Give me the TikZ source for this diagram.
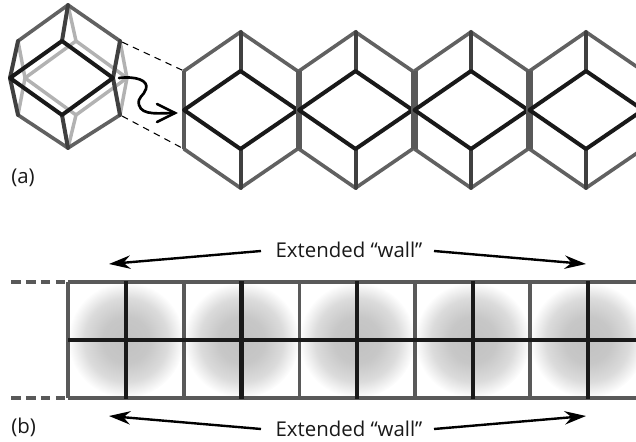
\documentclass[tikz,border=0pt]{standalone}
\usepackage{fontspec}
\setmainfont{Open Sans}
\usetikzlibrary{arrows.meta}
\pgfdeclareradialshading{wallglow}{\pgfpointorigin}{%
  color(0bp)=(black!24); color(10bp)=(black!22); color(18bp)=(black!14); color(23bp)=(black!4); color(25bp)=(white); color(50bp)=(white)}
\tikzset{
  x=0.75pt,y=-0.75pt,
  outeredge/.style={draw=black!62,line width=2.7pt,line cap=round,line join=round},
  spine/.style={draw=black!75,line width=3pt,line cap=round},
  backedge/.style={draw=black!30,line width=2.6pt,line cap=round,line join=round},
  frontedge/.style={draw=black!90,line width=3pt,line cap=round,line join=round},
  sharededge/.style={draw=black!65,line width=4.6pt},
  firstedge/.style={draw=black!65,line width=2.7pt},
  gridthin/.style={draw=black!65,line width=2.4pt},
  gridthick/.style={draw=black!90,line width=3.2pt},
  guide/.style={draw=black,line width=0.8pt,dash pattern=on 5pt off 4pt},
  railstub/.style={draw=black!65,line width=2.3pt,dash pattern=on 7.2pt off 4pt},
  bigarrow/.style={draw=black,line width=1.8pt,-{Stealth[length=16pt,width=10pt]}},
  curlyarrow/.style={draw=black,line width=2pt,line cap=round},
  lbl/.style={inner sep=0pt,text=black!90,font=\fontsize{15.3pt}{18pt}\selectfont},
}
\begin{document}
\begin{tikzpicture}
\useasboundingbox (0,0) rectangle (636,442);
\clip (0,0) rectangle (636,442);
% ---- small polyhedron
\coordinate (ot) at (68,5);
\coordinate (oul) at (18,41);
\coordinate (oll) at (18,115);
\coordinate (ob) at (68,148);
\coordinate (olr) at (120,115);
\coordinate (our) at (120,41);
\coordinate (fl) at (10,78);
\coordinate (ft) at (62,41);
\coordinate (fr) at (113,78);
\coordinate (fb) at (62,115);
\coordinate (bl) at (25,78);
\coordinate (bt) at (76,41);
\coordinate (br) at (127,78);
\coordinate (bb) at (76,115);
\draw[backedge] (bl) -- (bt) -- (br) -- (bb) -- cycle;
\draw[backedge] (ot) -- (bt) (ob) -- (bb) (oul) -- (bl) (oll) -- (bl) (our) -- (br) (olr) -- (br);
\draw[outeredge] (ot) -- (our) (olr) -- (ob) -- (oll) (oul) -- (ot);
\draw[spine] (ot) -- (ft) (ob) -- (fb) (oul) -- (fl) (oll) -- (fl) (our) -- (fr) (olr) -- (fr);
\draw[frontedge] (fl) -- (ft) -- (fr) -- (fb) -- cycle;
% ---- wall of hexagons
\foreach \i/\xc in {0/240.5,1/355.5,2/471,3/586}{
  \coordinate (hl\i) at (\xc-56.5,110);
  \coordinate (hr\i) at (\xc+57,110);
  \coordinate (hul\i) at (\xc-56.5,71);
  \coordinate (hll\i) at (\xc-56.5,149);
  \coordinate (hur\i) at (\xc+57,71);
  \coordinate (hlr\i) at (\xc+57,149);
  \coordinate (ht\i) at (\xc,32);
  \coordinate (hb\i) at (\xc,188);
  \coordinate (it\i) at (\xc,71);
  \coordinate (ib\i) at (\xc,149);
  \draw[outeredge] (hul\i) -- (ht\i) -- (hur\i) (hll\i) -- (hb\i) -- (hlr\i);
  \ifnum\i=0 \draw[firstedge] (hul\i) -- (hll\i); \else \draw[sharededge] (hul\i) -- (hll\i); \fi
  \draw[spine] (ht\i) -- (it\i) (hb\i) -- (ib\i);
  \draw[frontedge] (hl\i) -- (it\i) -- (hr\i) -- (ib\i) -- cycle;
}
% ---- guide lines and curly arrow
\draw[guide] (our) ++(2,1) -- (hul0);
\draw[guide] (olr) ++(2,1) -- (hll0);
\coordinate (cs) at (119,78);
\coordinate (ce) at (175,113);
\coordinate (cu) at (157,104);
\coordinate (cd) at (157,122);
\draw[curlyarrow] (cs) .. controls (135,76) and (149,80) .. (146,89)
   .. controls (144,96) and (137,97) .. (139,105)
   .. controls (142,116) and (160,113) .. (ce);
\draw[curlyarrow] (cu) -- (ce) -- (cd);
% ---- grid
\foreach \xc in {126,241.5,357,472.7,587.7}{
  \shade[shading=wallglow] (\xc,340) circle [radius=58];
}
\coordinate (tl) at (68,282);
\coordinate (tr) at (640,282);
\coordinate (ml) at (68,340);
\coordinate (mr) at (640,340);
\coordinate (bwl) at (68,398);
\coordinate (bwr) at (640,398);
\coordinate (st) at (11,282);
\coordinate (sb) at (11,398);
\draw[railstub] (st) -- (tl);
\draw[railstub] (sb) -- (bwl);
\foreach \xc in {68,184,299.5,415,530}{
  \draw[gridthin] (\xc,282) -- (\xc,398);
}
\draw[gridthin] (tl) -- (tr) (bwl) -- (bwr);
\draw[gridthick] (ml) -- (mr);
\foreach \xc in {126,241.5,357,472.7,587.7}{
  \draw[gridthick] (\xc,281) -- (\xc,399);
}
% ---- labels
\node[lbl,anchor=west] (la) at (11,178) {(a)};
\node[lbl,anchor=west] (lb) at (11,427) {(b)};
\node[lbl] (wt) at (349,250) {Extended “wall”};
\node[lbl] (wb) at (349,429) {Extended “wall”};
\coordinate (atl) at (109,264);
\coordinate (atr) at (586,264);
\coordinate (abl) at (109,416);
\coordinate (abr) at (586,416);
\draw[bigarrow] (261,251) -- (atl);
\draw[bigarrow] (434,251) -- (atr);
\draw[bigarrow] (261,429) -- (abl);
\draw[bigarrow] (434,429) -- (abr);
\end{tikzpicture}
\end{document}
